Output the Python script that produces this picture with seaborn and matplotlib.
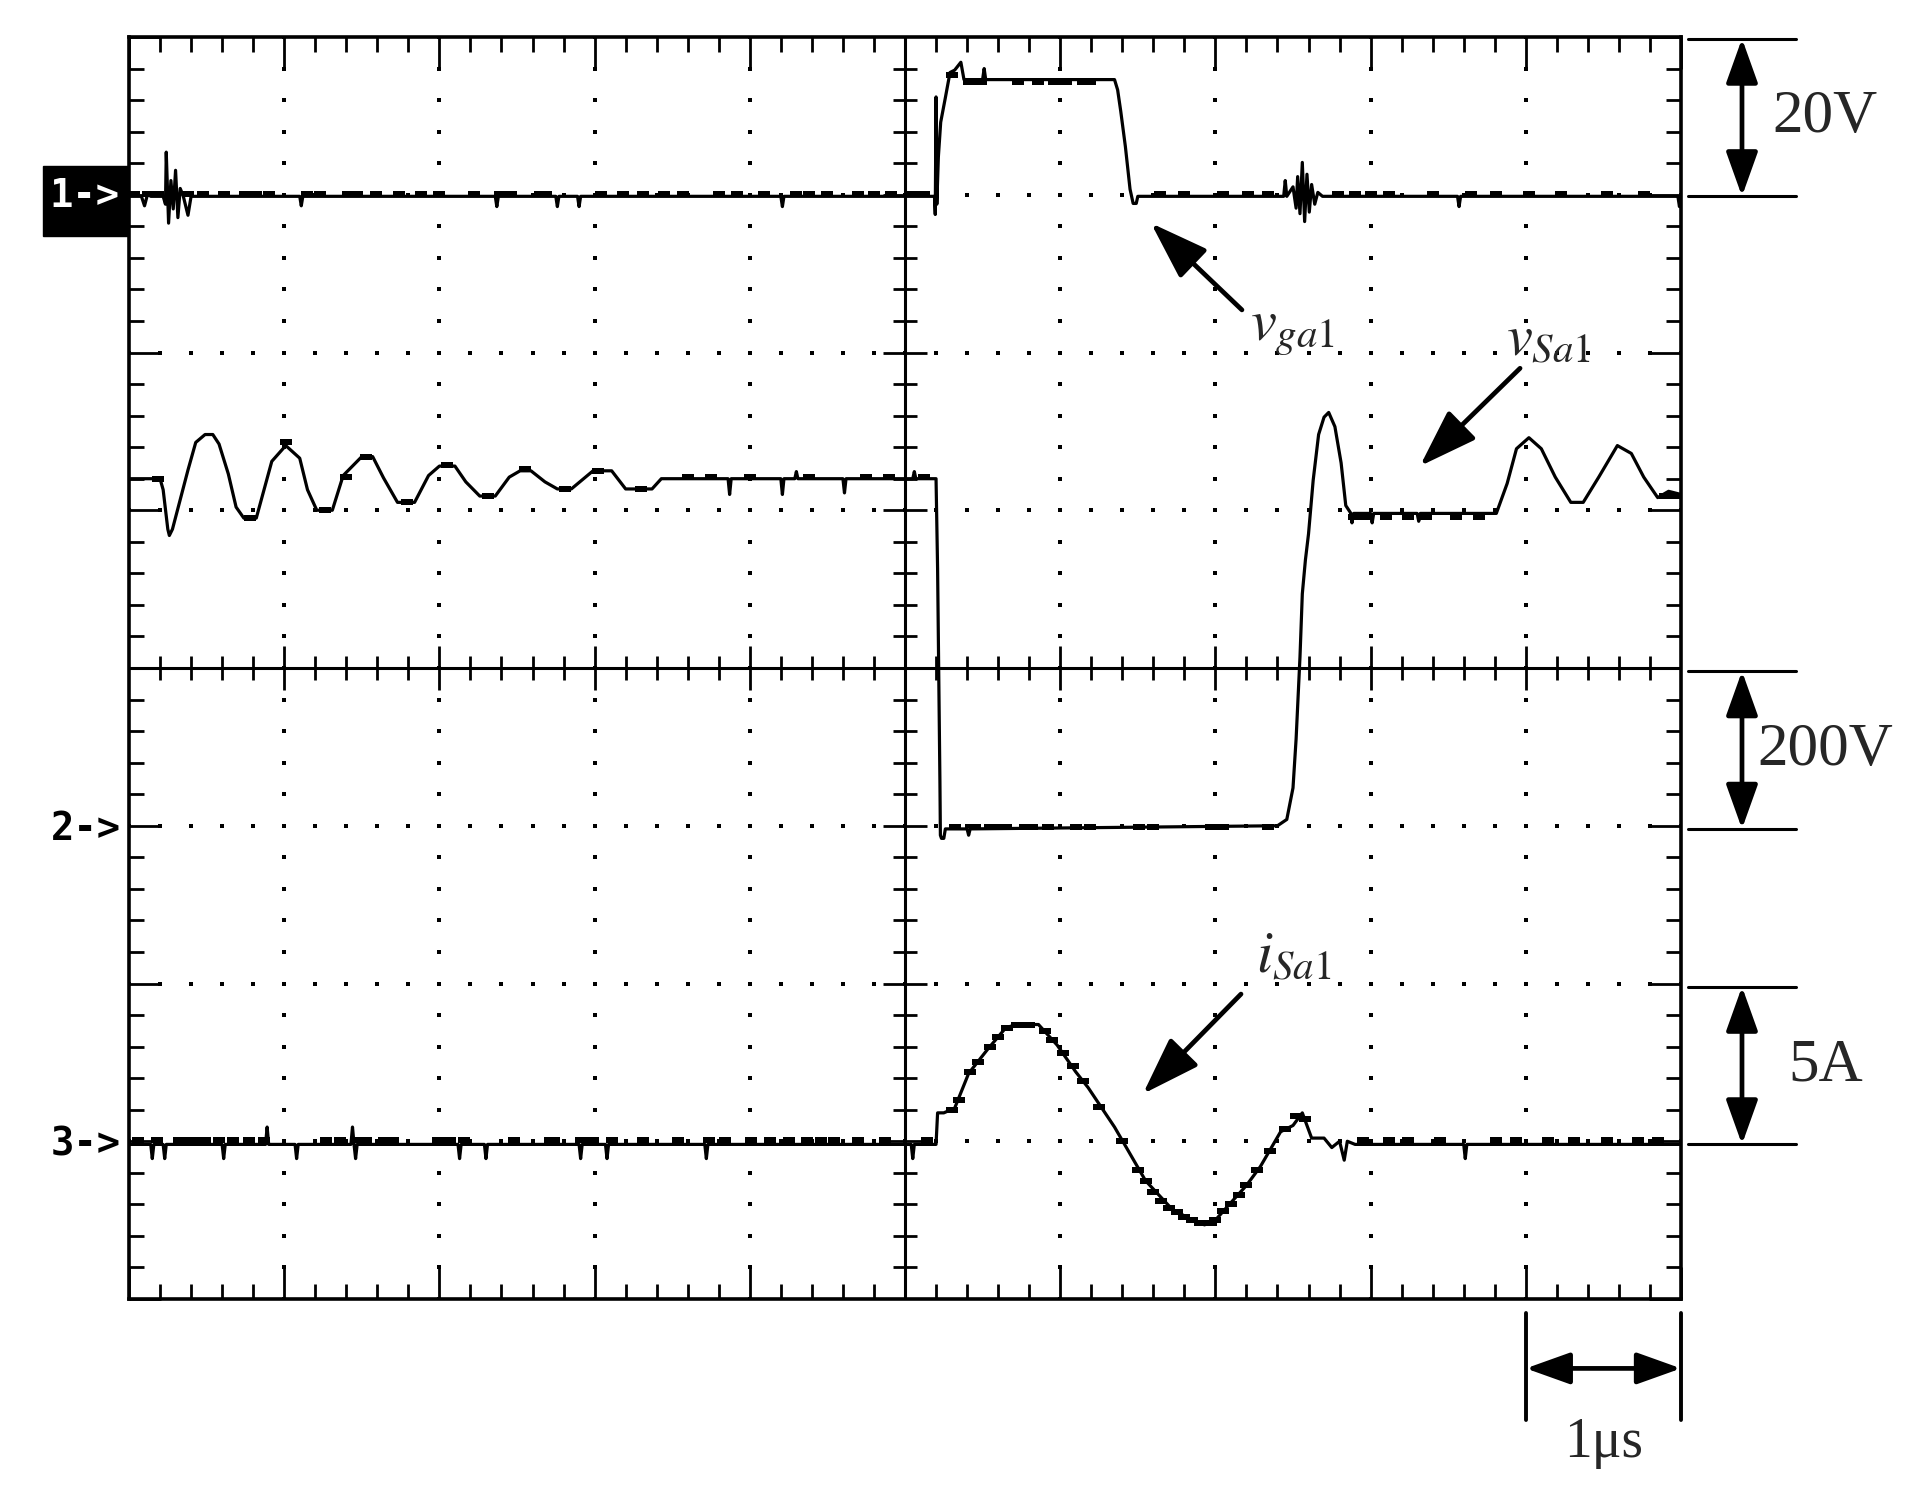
import numpy as np
import pandas as pd
import matplotlib
matplotlib.use('Agg')
import matplotlib.pyplot as plt
from matplotlib.patches import Rectangle
from matplotlib.path import Path
from matplotlib.ticker import MultipleLocator
import seaborn as sns

# scope settings: zero level of each channel (in divisions) and scale per division
ch_zero_div = [2.99, -1.02, -3.02]
ch_per_div = [20.0, 200.0, 5.0]
ch_scale_text = ['20V', '200V', '5A']
ch_marker_text = ['1->', '2->', '3->']
time_per_div_text = '1μs'

# channel 1: gate voltage v_ga1, (time in us, volts)
vga1_pts = [
    (-5.00, 0.0), (-4.92, 0.0), (-4.90, -1.2), (-4.88, 0.3), (-4.86, 0.0), (-4.78, 0.0),
    (-4.765, -1.0), (-4.76, 5.6), (-4.745, -3.4), (-4.73, 2.0), (-4.715, -1.6), (-4.70, 3.3),
    (-4.685, -2.7), (-4.67, 1.0), (-4.65, 0.0), (-4.62, -2.4), (-4.60, 0.0),
    (-3.90, 0.0), (-3.89, -1.2), (-3.88, 0.0), (-2.64, 0.0), (-2.63, -1.3), (-2.62, 0.0),
    (-2.25, 0.0), (-2.24, -1.3), (-2.23, 0.0), (-2.11, 0.0), (-2.10, -1.3), (-2.09, 0.0),
    (-0.80, 0.0), (-0.79, -1.3), (-0.78, 0.0),
    (0.19, 0.0), (0.195, -2.3), (0.20, 12.6), (0.205, -1.0), (0.215, 5.0), (0.23, 9.4),
    (0.26, 12.5), (0.29, 15.7), (0.32, 16.0), (0.36, 17.0), (0.38, 14.8), (0.50, 14.8),
    (0.51, 16.2), (0.52, 14.8), (1.35, 14.8), (1.37, 13.5), (1.39, 10.8), (1.42, 6.3),
    (1.45, 0.9), (1.47, -0.9), (1.49, -0.9), (1.50, 0.0),
    (2.44, 0.0), (2.45, 2.0), (2.46, 0.0), (2.50, 1.2), (2.52, -1.5), (2.53, 2.5),
    (2.545, -2.2), (2.56, 4.3), (2.575, -3.2), (2.59, 2.8), (2.605, -2.0), (2.62, 1.5),
    (2.64, -1.0), (2.66, 0.5), (2.69, 0.0),
    (3.56, 0.0), (3.57, -1.3), (3.58, 0.0), (4.98, 0.0), (4.99, -1.3), (5.00, 0.0),
]
vga1_blobs = [
    (-4.97, 0.3), (-4.88, 0.3), (-4.81, 0.3), (-4.62, 0.3), (-4.52, 0.3), (-4.39, 0.3),
    (-4.25, 0.3), (-4.18, 0.3), (-4.10, 0.3), (-3.85, 0.3), (-3.77, 0.3), (-3.59, 0.3),
    (-3.53, 0.3), (-3.41, 0.3), (-3.26, 0.3), (-3.12, 0.3), (-3.00, 0.3), (-2.78, 0.3),
    (-2.61, 0.3), (-2.54, 0.3), (-2.35, 0.3), (-2.31, 0.3), (-1.96, 0.3), (-1.82, 0.3),
    (-1.69, 0.3), (-1.55, 0.3), (-1.43, 0.3), (-1.20, 0.3), (-1.08, 0.3), (-0.91, 0.3),
    (-0.70, 0.3), (-0.62, 0.3), (-0.50, 0.3), (-0.30, 0.3), (-0.20, 0.3), (-0.09, 0.3),
    (0.05, 0.3), (0.12, 0.3),
    (0.30, 15.4), (0.41, 14.5), (0.49, 14.5), (0.73, 14.5), (0.86, 14.5), (0.96, 14.5),
    (1.04, 14.5), (1.15, 14.5), (1.19, 14.5),
    (1.64, 0.3), (1.80, 0.3), (2.05, 0.3), (2.21, 0.3), (2.34, 0.3), (2.79, 0.3),
    (2.90, 0.3), (3.00, 0.3), (3.12, 0.3), (3.40, 0.3), (3.65, 0.3), (3.81, 0.3),
    (4.02, 0.3), (4.23, 0.3), (4.52, 0.3), (4.76, 0.3),
]

# channel 2: switch voltage v_Sa1 (volts)
vsa1_pts = [
    (-5.00, 444), (-4.80, 444), (-4.78, 430), (-4.75, 380), (-4.74, 372), (-4.72, 380),
    (-4.68, 410), (-4.62, 455), (-4.57, 490), (-4.51, 500), (-4.46, 500), (-4.42, 488),
    (-4.36, 450), (-4.31, 408), (-4.26, 394), (-4.18, 394), (-4.13, 430), (-4.08, 466),
    (-3.99, 486), (-3.90, 470), (-3.85, 430), (-3.79, 404), (-3.69, 404), (-3.62, 448),
    (-3.50, 472), (-3.43, 472), (-3.36, 445), (-3.27, 414), (-3.16, 414), (-3.07, 448),
    (-3.00, 460), (-2.90, 460), (-2.83, 440), (-2.74, 422), (-2.64, 422), (-2.55, 446),
    (-2.48, 454), (-2.41, 454), (-2.32, 440), (-2.24, 431), (-2.15, 431), (-2.01, 454),
    (-1.89, 454), (-1.80, 431), (-1.63, 431), (-1.57, 444),
    (-1.14, 444), (-1.13, 424), (-1.12, 444), (-0.80, 444), (-0.79, 424), (-0.78, 444),
    (-0.71, 444), (-0.70, 453), (-0.69, 444), (-0.40, 444), (-0.39, 426), (-0.38, 444),
    (0.05, 444), (0.06, 453), (0.07, 444), (0.20, 444),
    (0.21, 330), (0.225, 60), (0.228, -8), (0.235, -12), (0.25, -12), (0.26, 0),
    (0.40, 0), (0.41, -8), (0.42, 0), (2.40, 4), (2.46, 12), (2.50, 52), (2.52, 114),
    (2.545, 218), (2.56, 298), (2.58, 341), (2.60, 374), (2.63, 442), (2.665, 500),
    (2.70, 522), (2.73, 528), (2.77, 510), (2.81, 464), (2.84, 410), (2.87, 401),
    (2.88, 388), (2.89, 400), (3.00, 400), (3.01, 388), (3.02, 400), (3.30, 400),
    (3.31, 390), (3.32, 400), (3.81, 400), (3.88, 438), (3.94, 482), (4.02, 496),
    (4.10, 482), (4.19, 446), (4.29, 414), (4.37, 414), (4.47, 446), (4.59, 486),
    (4.68, 476), (4.76, 446), (4.85, 420), (4.92, 428), (5.00, 424),
]
vsa1_blobs = [
    (-4.81, 444), (-4.22, 394), (-3.99, 490), (-3.74, 404), (-3.60, 446), (-3.47, 472),
    (-3.21, 414), (-2.95, 462), (-2.69, 422), (-2.45, 456), (-2.19, 431), (-1.98, 454),
    (-1.70, 431), (-1.40, 446), (-1.25, 446), (-1.00, 446), (-0.62, 446), (-0.25, 446),
    (-0.10, 446), (0.12, 446),
    (0.32, 3), (0.45, 3), (0.55, 3), (0.65, 3), (0.77, 3), (0.82, 3), (0.92, 3), (1.10, 3),
    (1.19, 3), (1.51, 3), (1.60, 3), (1.97, 3), (2.05, 3), (2.34, 3),
    (2.89, 396), (2.97, 396), (3.10, 396), (3.24, 396), (3.36, 396), (3.55, 396),
    (3.70, 396), (4.90, 422), (4.97, 422),
]

# channel 3: switch current i_Sa1 (amps)
isa1_pts = [
    (-5.00, 0), (-4.86, 0), (-4.85, -0.45), (-4.84, 0), (-4.78, 0), (-4.77, -0.45),
    (-4.76, 0), (-4.40, 0), (-4.39, -0.45), (-4.38, 0), (-4.12, 0), (-4.11, 0.55),
    (-4.10, 0), (-3.93, 0), (-3.92, -0.45), (-3.91, 0), (-3.57, 0), (-3.56, 0.55),
    (-3.55, 0), (-3.54, -0.45), (-3.53, 0), (-2.88, 0), (-2.87, -0.45), (-2.86, 0),
    (-2.71, 0), (-2.70, -0.45), (-2.69, 0), (-2.10, 0), (-2.09, -0.45), (-2.08, 0),
    (-1.93, 0), (-1.92, -0.45), (-1.91, 0), (-1.29, 0), (-1.28, -0.45), (-1.27, 0),
    (0.04, 0), (0.05, -0.45), (0.06, 0),
    (0.20, 0), (0.21, 1.0), (0.25, 1.0), (0.32, 1.15), (0.41, 2.25), (0.53, 3.0),
    (0.65, 3.7), (0.72, 3.8), (0.86, 3.8), (0.98, 3.15), (1.10, 2.3), (1.18, 1.8),
    (1.35, 0.55), (1.45, -0.3), (1.55, -1.15), (1.72, -2.05), (1.85, -2.4), (1.93, -2.55),
    (2.00, -2.4), (2.09, -1.9), (2.20, -1.3), (2.29, -0.7), (2.42, 0.4), (2.50, 0.6),
    (2.56, 1.0), (2.62, 0.2), (2.70, 0.2), (2.75, -0.1), (2.80, 0.1), (2.83, -0.5),
    (2.85, 0.1), (2.90, 0),
    (3.60, 0), (3.61, -0.45), (3.62, 0), (5.00, 0),
]
isa1_blobs = [
    (-4.94, 0.15), (-4.82, 0.15), (-4.68, 0.15), (-4.62, 0.15), (-4.57, 0.15), (-4.51, 0.15),
    (-4.42, 0.15), (-4.33, 0.15), (-4.23, 0.15), (-4.13, 0.15), (-3.73, 0.15), (-3.64, 0.15),
    (-3.53, 0.15), (-3.47, 0.15), (-3.36, 0.15), (-3.30, 0.15), (-3.01, 0.15), (-2.93, 0.15),
    (-2.84, 0.15), (-2.52, 0.15), (-2.29, 0.15), (-2.26, 0.15), (-2.09, 0.15), (-2.01, 0.15),
    (-1.89, 0.15), (-1.69, 0.15), (-1.46, 0.15), (-1.26, 0.15), (-1.16, 0.15), (-0.99, 0.15),
    (-0.87, 0.15), (-0.75, 0.15), (-0.63, 0.15), (-0.54, 0.15), (-0.46, 0.15), (-0.30, 0.15),
    (-0.13, 0.15), (0.14, 0.15),
    (0.30, 1.1), (0.35, 1.4), (0.42, 2.3), (0.47, 2.6), (0.55, 3.1), (0.60, 3.4),
    (0.66, 3.7), (0.72, 3.8), (0.80, 3.8), (0.90, 3.6), (0.95, 3.3), (1.02, 2.9),
    (1.08, 2.5), (1.15, 2.0), (1.25, 1.2), (1.40, 0.1), (1.50, -0.8), (1.55, -1.15),
    (1.60, -1.5), (1.65, -1.8), (1.70, -2.0), (1.75, -2.15), (1.80, -2.3), (1.85, -2.4),
    (1.90, -2.5), (1.97, -2.5), (2.00, -2.4), (2.05, -2.1), (2.10, -1.9), (2.15, -1.6),
    (2.20, -1.3), (2.27, -0.8), (2.35, -0.2), (2.45, 0.5), (2.52, 0.9), (2.58, 0.8),
    (2.95, 0.15), (3.12, 0.15), (3.24, 0.15), (3.45, 0.15), (3.81, 0.15), (3.94, 0.15),
    (4.14, 0.15), (4.31, 0.15), (4.52, 0.15), (4.72, 0.15), (4.85, 0.15),
]

traces = [vga1_pts, vsa1_pts, isa1_pts]
blobs = [vga1_blobs, vsa1_blobs, isa1_blobs]

sns.set_style('white')
plt.rcParams['mathtext.fontset'] = 'stix'

fig = plt.figure(figsize=(19.24, 15.06), dpi=100)
ax = fig.add_axes([0.06705, 0.13745, 0.80665, 0.83798])
ax.set_xlim(-5, 5)
ax.set_ylim(-4, 4)

# graticule: dotted division lines
fine_t = np.round(np.arange(-5, 5.001, 0.2), 2)
fine_y = np.round(np.arange(-4, 4.001, 0.2), 2)
for gx in [-4, -3, -2, -1, 1, 2, 3, 4]:
    ax.plot(np.full_like(fine_y, gx), fine_y, ls='none', marker='s', ms=2.6, mew=0, color='k')
for gy in [-3, -2, -1, 1, 2, 3]:
    ax.plot(fine_t, np.full_like(fine_t, gy), ls='none', marker='s', ms=2.6, mew=0, color='k')

# centre cross with ticks
ax.axhline(0, color='k', lw=2.2)
ax.axvline(0, color='k', lw=2.2)
minor_t = [v for v in fine_t if abs(v - round(v)) > 1e-6]
minor_y = [v for v in fine_y if abs(v - round(v)) > 1e-6]
ax.plot(minor_t, np.zeros(len(minor_t)), ls='none', marker='|', ms=17, mew=2, color='k')
ax.plot(np.arange(-4, 5), np.zeros(9), ls='none', marker='|', ms=32, mew=2, color='k')
ax.plot(np.zeros(len(minor_y)), minor_y, ls='none', marker='_', ms=17, mew=2, color='k')
ax.plot(np.zeros(7), np.arange(-3, 4), ls='none', marker='_', ms=32, mew=2, color='k')

# border ticks
ax.set_xticks(np.arange(-5, 6))
ax.set_yticks(np.arange(-4, 5))
ax.xaxis.set_minor_locator(MultipleLocator(0.2))
ax.yaxis.set_minor_locator(MultipleLocator(0.2))
ax.tick_params(which='both', direction='in', top=True, bottom=True, left=True, right=True,
               labelbottom=False, labelleft=False, width=2, color='k')
ax.tick_params(which='major', length=23)
ax.tick_params(which='minor', length=11)
for sp in ax.spines.values():
    sp.set_visible(True)
    sp.set_color('k')
    sp.set_linewidth(2.6)

# traces, with small blocks for the display noise
blob_marker = Path([(-1, -0.6), (1, -0.6), (1, 0.6), (-1, 0.6), (-1, -0.6)])
for pts, bl, zero, per in zip(traces, blobs, ch_zero_div, ch_per_div):
    df = pd.DataFrame(pts, columns=['t', 'v'])
    df['div'] = zero + df['v'] / per
    sns.lineplot(data=df, x='t', y='div', sort=False, estimator=None, color='k',
                 lw=2.3, ax=ax, zorder=5)
    db = pd.DataFrame(bl, columns=['t', 'v'])
    db['div'] = zero + db['v'] / per
    sns.scatterplot(data=db, x='t', y='div', marker=blob_marker, s=70, color='k',
                    linewidth=0, ax=ax, zorder=5)
ax.set_xlabel('')
ax.set_ylabel('')

# channel markers on the left
ax.add_patch(Rectangle((-5.554, 2.74), 0.548, 0.44, color='k', clip_on=False, zorder=6))
mono = dict(family='DejaVu Sans Mono', fontsize=28, fontweight='bold',
            ha='center', va='center', clip_on=False)
ax.text(-5.29, ch_zero_div[0], ch_marker_text[0], color='white', zorder=7, **mono)
ax.text(-5.28, ch_zero_div[1], ch_marker_text[1], color='k', **mono)
ax.text(-5.28, ch_zero_div[2], ch_marker_text[2], color='k', **mono)

# trace labels with arrows
arrow_kw = dict(arrowstyle='-|>,head_length=0.4,head_width=0.136', color='k', lw=3.4,
                mutation_scale=90, shrinkA=0, shrinkB=0)
ax.annotate('', xy=(1.585, 2.82), xytext=(2.171, 2.27), arrowprops=arrow_kw)
ax.annotate('', xy=(3.318, 1.28), xytext=(3.963, 1.90), arrowprops=arrow_kw)
ax.annotate('', xy=(1.533, -2.70), xytext=(2.165, -2.067), arrowprops=arrow_kw)
ax.text(2.22, 2.08, r'$v_{ga1}$', fontsize=42, ha='left', va='baseline')
ax.text(3.87, 1.98, r'$v_{Sa1}$', fontsize=42, ha='left', va='baseline')
ax.text(2.26, -1.93, r'$i_{Sa1}$', fontsize=42, ha='left', va='baseline')

# amplitude scale bars on the right
bar_kw = dict(arrowstyle='<|-|>,head_length=0.4,head_width=0.143', color='k', lw=3.4,
              mutation_scale=68, shrinkA=0, shrinkB=0)
for zero, txt in zip(ch_zero_div, ch_scale_text):
    for lvl in (zero, zero + 1):
        ax.plot([5.045, 5.74], [lvl, lvl], color='k', lw=2.2, clip_on=False)
    ax.annotate('', xy=(5.393, zero + 1), xytext=(5.393, zero), arrowprops=bar_kw,
                annotation_clip=False)
    ax.text(5.93, zero + 0.5, txt, family='Liberation Serif', fontsize=44,
            ha='center', va='center', clip_on=False)

# time scale bar
for tx in (4, 5):
    ax.plot([tx, tx], [-4.09, -4.77], color='k', lw=2.8, clip_on=False)
ax.annotate('', xy=(5, -4.44), xytext=(4, -4.44), arrowprops=bar_kw, annotation_clip=False)
ax.text(4.5, -4.91, time_per_div_text, family='Liberation Serif', fontsize=40,
        ha='center', va='center', clip_on=False)

fig.savefig('out.png', dpi=100, facecolor='white')
